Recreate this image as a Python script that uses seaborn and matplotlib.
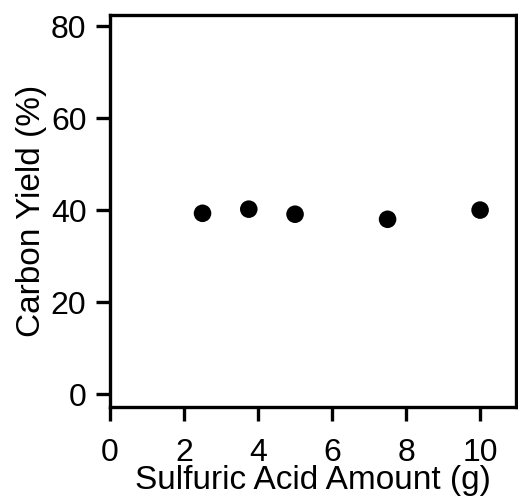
import matplotlib
matplotlib.use("Agg")
import matplotlib.pyplot as plt
import seaborn as sns
import pandas as pd

acid_amount = [2.5, 3.75, 5.0, 7.5, 10.0]
carbon_yield = [39.3, 40.2, 39.1, 38.0, 40.0]
x_ticks = [0, 2, 4, 6, 8, 10]
y_ticks = [0, 20, 40, 60, 80]

df = pd.DataFrame({"acid": acid_amount, "yield": carbon_yield})

sns.set_theme(style="ticks")
plt.rcParams['font.family'] = ['Liberation Sans', 'DejaVu Sans']

fig = plt.figure(figsize=(5.18, 4.99), dpi=100)
ax = fig.add_axes([110/518, 1-407/499, (516-110)/518, (407-15)/499])

sns.scatterplot(data=df, x="acid", y="yield", ax=ax, color="black", s=160,
                edgecolor="none", legend=False, zorder=3)

ax.set_xlim(0, 10.97)
ax.set_ylim(-2.8, 82.4)
ax.set_xticks(x_ticks)
ax.set_yticks(y_ticks)
ax.set_xticklabels([str(t) for t in x_ticks])
ax.set_yticklabels([str(t) for t in y_ticks])

for s in ax.spines.values():
    s.set_linewidth(2.4)
    s.set_color("black")
    s.set_visible(True)

ax.tick_params(axis="both", direction="out", length=10, width=2.4, color="black",
               labelsize=23, labelcolor="black")
ax.tick_params(axis="x", pad=12)
ax.tick_params(axis="y", pad=7)

ax.set_xlabel("Sulfuric Acid Amount (g)", fontsize=24, labelpad=-2, color="black")
ax.set_ylabel("Carbon Yield (%)", fontsize=24, labelpad=3, color="black")
ax.set_facecolor("white")
fig.patch.set_facecolor("white")

fig.savefig("out.png", dpi=100)
